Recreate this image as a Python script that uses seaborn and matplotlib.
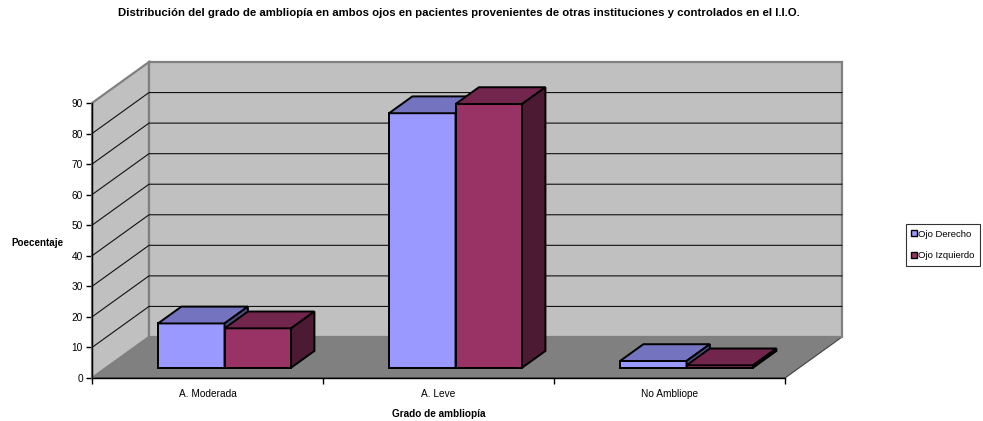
import numpy as np
import pandas as pd
import matplotlib
matplotlib.use("Agg")
import matplotlib.pyplot as plt
import matplotlib.transforms as mtransforms
from matplotlib.patches import Polygon
from matplotlib.lines import Line2D
import seaborn as sns

# ---- data -------------------------------------------------------------
categories = ["A. Moderada", "A. Leve", "No Ambliope"]
series = ["Ojo Derecho", "Ojo Izquierdo"]
ojo_derecho = [14.5, 83.3, 2.2]
ojo_izquierdo = [12.9, 86.3, 0.8]
y_ticks = [0, 10, 20, 30, 40, 50, 60, 70, 80, 90]

title = ("Distribución del grado de ambliopía en ambos ojos en pacientes "
         "provenientes de otras instituciones y controlados en el I.I.O.")
x_label = "Grado de ambliopía"
y_label = "Poecentaje"

df = pd.DataFrame({
    "Grado": categories * 2,
    "Ojo": [series[0]] * len(categories) + [series[1]] * len(categories),
    "Porcentaje": ojo_derecho + ojo_izquierdo,
})

# ---- style ------------------------------------------------------------
front_colors = {"Ojo Derecho": "#9999FF", "Ojo Izquierdo": "#993366"}
top_colors = {"Ojo Derecho": "#7373C0", "Ojo Izquierdo": "#73264D"}
side_colors = {"Ojo Derecho": "#4D4D80", "Ojo Izquierdo": "#4D1A33"}
wall_color = "#C0C0C0"
floor_color = "#808080"
border_color = "#808080"

sns.set_theme(style="white")
plt.rcParams["font.family"] = ["Liberation Sans", "DejaVu Sans"]
plt.rcParams["text.color"] = "black"
plt.rcParams["xtick.color"] = "black"
plt.rcParams["ytick.color"] = "black"
plt.rcParams["xtick.labelcolor"] = "black"
plt.rcParams["ytick.labelcolor"] = "black"

fig = plt.figure(figsize=(9.83, 4.21), dpi=100)
fig.patch.set_facecolor("white")
ax = fig.add_axes([92 / 983, 43 / 421, 693 / 983, 275 / 421])
ax.patch.set_visible(False)

YMAX = y_ticks[-1]
ax.set_xlim(-0.5, len(categories) - 0.5)
ax.set_ylim(0, YMAX)

# oblique depth of the plot box, in data units
DX = 57 / 231
DY = 41 / (275 / YMAX)
x_lo, x_hi = -0.5, len(categories) - 0.5

# floor
ax.add_patch(Polygon([(x_lo, 0), (x_hi, 0), (x_hi + DX, DY), (x_lo + DX, DY)],
                     closed=True, facecolor=floor_color, edgecolor="#404040",
                     linewidth=0.8, zorder=0.5, clip_on=False))
# side wall
ax.add_patch(Polygon([(x_lo, 0), (x_lo + DX, DY), (x_lo + DX, YMAX + DY), (x_lo, YMAX)],
                     closed=True, facecolor=wall_color, edgecolor=border_color,
                     linewidth=1.6, zorder=0.6, clip_on=False))
# back wall
ax.add_patch(Polygon([(x_lo + DX, DY), (x_hi + DX, DY), (x_hi + DX, YMAX + DY),
                      (x_lo + DX, YMAX + DY)],
                     closed=True, facecolor=wall_color, edgecolor=border_color,
                     linewidth=1.6, zorder=0.7, clip_on=False))
# floor left edge over the wall border
ax.plot([x_lo, x_lo + DX], [0, DY], color=border_color, lw=1.0, zorder=0.8,
        clip_on=False)

# gridlines running across side and back walls
for t in y_ticks[1:-1]:
    ax.plot([x_lo, x_lo + DX, x_hi + DX], [t, t + DY, t + DY],
            color="#111111", lw=0.8, zorder=1, clip_on=False)

# ---- bars -------------------------------------------------------------
sns.barplot(data=df, x="Grado", y="Porcentaje", hue="Ojo",
            order=categories, hue_order=series,
            palette=[front_colors[s] for s in series], saturation=1,
            width=0.576, gap=0, edgecolor="black", linewidth=1.4,
            legend=False, ax=ax)

FRONT = 0.25   # depth at which bar fronts sit
DEPTH = 0.41   # bar depth as a share of the box depth
fx, fy = FRONT * DX + 0.012, FRONT * DY
bx, by = DEPTH * DX, DEPTH * DY
shift = mtransforms.Affine2D().translate(fx, fy) + ax.transData

bars = []
for name, container in zip(series, ax.containers):
    for p in container.patches:
        bars.append((p.get_x(), name, p))
bars.sort(key=lambda b: b[0])

for i, (_, name, p) in enumerate(bars):
    z = 3 + i
    p.set_transform(shift)
    p.set_clip_on(False)
    p.set_zorder(z)
    x0 = p.get_x() + fx
    x1 = x0 + p.get_width()
    y0 = p.get_y() + fy
    y1 = y0 + p.get_height()
    top = Polygon([(x0, y1), (x1, y1), (x1 + bx, y1 + by), (x0 + bx, y1 + by)],
                  closed=True, facecolor=top_colors[name], edgecolor="black",
                  linewidth=1.4, zorder=z + 0.1, clip_on=False, joinstyle="miter")
    side = Polygon([(x1, y0), (x1 + bx, y0 + by), (x1 + bx, y1 + by), (x1, y1)],
                   closed=True, facecolor=side_colors[name], edgecolor="black",
                   linewidth=1.4, zorder=z + 0.1, clip_on=False, joinstyle="miter")
    ax.add_patch(top)
    ax.add_patch(side)

# ---- axes -------------------------------------------------------------
for s in ["top", "right"]:
    ax.spines[s].set_visible(False)
for s in ["left", "bottom"]:
    ax.spines[s].set_color("black")
    ax.spines[s].set_linewidth(1.0)
    ax.spines[s].set_zorder(2)

ax.set_yticks(y_ticks)
ax.set_yticklabels([str(t) for t in y_ticks])
ax.tick_params(axis="y", which="major", direction="out", length=4.5, width=1.0,
               color="black", labelcolor="black", labelsize=7.3, pad=2, left=True)

ax.set_xticks(np.arange(len(categories) + 1) - 0.5)
ax.set_xticklabels([""] * (len(categories) + 1))
ax.set_xticks(np.arange(len(categories)), minor=True)
ax.set_xticklabels(categories, minor=True)
ax.tick_params(axis="x", which="major", direction="out", length=4.5, width=1.0,
               color="black", bottom=True)
ax.tick_params(axis="x", which="minor", length=0, labelsize=7.3, pad=8,
               labelcolor="black")
ax.set_xlabel("")
ax.set_ylabel("")

fig.text(459 / 983, 1 - 13 / 421, title, ha="center", va="center",
         fontsize=8.2, fontweight="bold", color="black")
fig.text(37 / 983, 1 - 243 / 421, y_label, ha="center", va="center",
         fontsize=7.1, fontweight="bold", color="black")
fig.text(439 / 983, 1 - 414 / 421, x_label, ha="center", va="center",
         fontsize=7.2, fontweight="bold", color="black")

handles = [Line2D([], [], marker="s", linestyle="none", markersize=4.5,
                  markerfacecolor=front_colors[s], markeredgecolor="black",
                  markeredgewidth=1.0) for s in series]
leg = fig.legend(handles, series, loc="upper left",
                 bbox_to_anchor=(906 / 983, 1 - 224 / 421),
                 frameon=True, fancybox=False, fontsize=6.8,
                 handlelength=0.5, handletextpad=0.2, labelspacing=1.35,
                 borderpad=0.6, borderaxespad=0, labelcolor="black")
leg.get_frame().set_edgecolor("black")
leg.get_frame().set_linewidth(0.8)

fig.savefig("out.png", dpi=100, facecolor="white")
